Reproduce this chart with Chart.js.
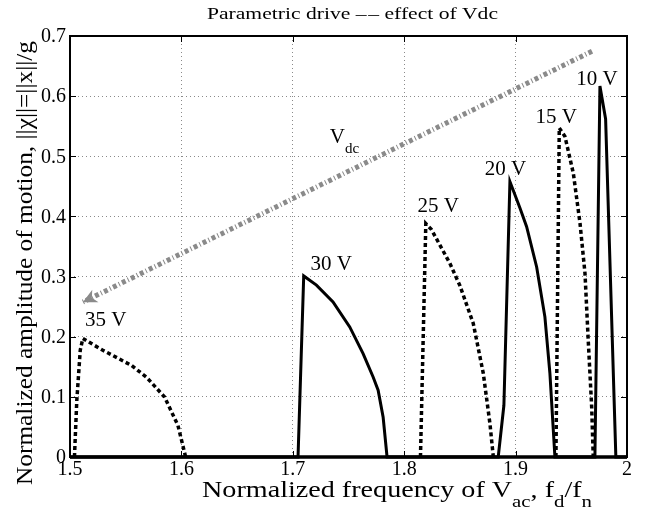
<!DOCTYPE html>
<html lang="en">
<head>
    <meta charset="UTF-8">
    <title>Parametric drive - effect of Vdc</title>
    <script src="https://cdn.jsdelivr.net/npm/chart.js"></script>
    <style>
        body { margin: 0; background: #fff; }
        #wrap { width: 654px; height: 510px; position: relative; }
    </style>
</head>
<body>
<div id="wrap"><canvas id="chart"></canvas></div>
<script>
    // axis ticks
    const xTicks = [1.5, 1.6, 1.7, 1.8, 1.9, 2];
    const xTickLabels = ['1.5', '1.6', '1.7', '1.8', '1.9', '2'];
    const yTicks = [0, 0.1, 0.2, 0.3, 0.4, 0.5, 0.6, 0.7];
    const yTickLabels = ['0', '0.1', '0.2', '0.3', '0.4', '0.5', '0.6', '0.7'];

    // curves: x = fd/fn, y = normalized amplitude
    const f10 = [1.5, 1.9712, 1.9757, 1.9808, 1.990, 2.0];
    const a10 = [0, 0, 0.617, 0.562, 0, 0];
    const f15 = [1.9362, 1.9392, 1.9443, 1.9518, 1.9578, 1.9623, 1.9652, 1.9683, 1.9697];
    const a15 = [0, 0.547, 0.533, 0.472, 0.389, 0.305, 0.194, 0.083, 0];
    const f20 = [1.5, 1.8844, 1.8895, 1.8949, 1.9039, 1.9099, 1.9189, 1.9263, 1.9308, 1.9353, 2.0];
    const a20 = [0, 0, 0.086, 0.458, 0.414, 0.383, 0.316, 0.233, 0.139, 0, 0];
    const f25 = [1.8146, 1.8194, 1.8245, 1.841, 1.85, 1.862, 1.871, 1.877, 1.880];
    const a25 = [0, 0.388, 0.378, 0.322, 0.285, 0.222, 0.139, 0.055, 0];
    const f30 = [1.5, 1.7047, 1.7098, 1.7212, 1.7361, 1.7511, 1.7631, 1.7721, 1.7766, 1.7811, 1.7846, 2.0];
    const a30 = [0, 0, 0.301, 0.2858, 0.258, 0.2163, 0.172, 0.133, 0.111, 0.066, 0, 0];
    const f35 = [1.504, 1.5061, 1.5092, 1.5115, 1.5295, 1.555, 1.5685, 1.5849, 1.5969, 1.6038];
    const a35 = [0, 0.094, 0.1775, 0.197, 0.1775, 0.1525, 0.133, 0.0997, 0.0525, 0];
    const curveLabels = ['10 V', '15 V', '20 V', '25 V', '30 V', '35 V'];

    // grey arrow (direction of increasing Vdc)
    const arrowX = [1.9686, 1.5115];
    const arrowY = [0.6747, 0.2575];

    const FONT = '"Liberation Serif", "Times New Roman", serif';
    const pts = (xs, ys) => xs.map((v, i) => ({ x: v, y: ys[i] }));

    const solid = (xs, ys) => ({
        data: pts(xs, ys), borderColor: '#000', borderWidth: 3, pointRadius: 0, clip: false
    });
    const dotted = (xs, ys) => ({
        data: pts(xs, ys), borderColor: '#000', borderWidth: 3.5, borderDash: [4, 3],
        borderCapStyle: 'butt', pointRadius: 0, clip: false
    });

    // text helpers: draw segments (with subscripts), stretched to fit a width
    function segWidth(ctx, segs, main, sub) {
        let w = 0;
        segs.forEach(s => {
            ctx.font = (s.sub ? sub : main) + 'px ' + FONT;
            w += ctx.measureText(s.t).width;
        });
        return w;
    }
    function drawSegs(ctx, segs, main, sub, drop, width) {
        const sx = width ? width / segWidth(ctx, segs, main, sub) : 1;
        ctx.scale(sx, 1);
        let x = 0;
        segs.forEach(s => {
            ctx.font = (s.sub ? sub : main) + 'px ' + FONT;
            ctx.fillText(s.t, x, s.sub ? drop : 0);
            x += ctx.measureText(s.t).width;
        });
    }

    const figPlugin = {
        id: 'figText',
        afterDraw(chart) {
            const { ctx, chartArea: a, scales: { x, y } } = chart;
            ctx.save();
            ctx.fillStyle = '#000';
            ctx.strokeStyle = '#000';

            // arrowhead
            const n = arrowX.length;
            const tx = x.getPixelForValue(arrowX[n - 1]), ty = y.getPixelForValue(arrowY[n - 1]);
            const px = x.getPixelForValue(arrowX[n - 2]), py = y.getPixelForValue(arrowY[n - 2]);
            const ang = Math.atan2(ty - py, tx - px);
            ctx.save();
            ctx.translate(tx, ty);
            ctx.rotate(ang);
            ctx.fillStyle = '#8a8a8a';
            ctx.beginPath();
            ctx.moveTo(0, 0);
            ctx.lineTo(-14, -7);
            ctx.lineTo(-10, 0);
            ctx.lineTo(-14, 7);
            ctx.closePath();
            ctx.fill();
            ctx.restore();

            // box and inward ticks
            ctx.lineWidth = 2;
            ctx.strokeRect(a.left, a.top, a.right - a.left, a.bottom - a.top);
            ctx.lineWidth = 1;
            ctx.beginPath();
            xTicks.forEach(v => {
                const p = Math.round(x.getPixelForValue(v)) + 0.5;
                ctx.moveTo(p, a.bottom); ctx.lineTo(p, a.bottom - 6);
                ctx.moveTo(p, a.top); ctx.lineTo(p, a.top + 6);
            });
            yTicks.forEach(v => {
                const p = Math.round(y.getPixelForValue(v)) + 0.5;
                ctx.moveTo(a.left, p); ctx.lineTo(a.left + 6, p);
                ctx.moveTo(a.right, p); ctx.lineTo(a.right - 6, p);
            });
            ctx.stroke();

            // tick labels
            ctx.font = '20px ' + FONT;
            ctx.textBaseline = 'middle';
            ctx.textAlign = 'right';
            yTicks.forEach((v, i) => ctx.fillText(yTickLabels[i], a.left - 4, y.getPixelForValue(v) + 1));
            ctx.textAlign = 'center';
            xTicks.forEach((v, i) => ctx.fillText(xTickLabels[i], x.getPixelForValue(v), a.bottom + 13));

            // curve labels, placed relative to each curve's peak
            const offs = [[-3, -6], [-3, -11], [-4.5, -12.5], [12.5, -17], [27.5, -11], [23, -18]];
            ctx.font = '21px ' + FONT;
            chart.data.datasets.slice(0, 6).forEach((ds, i) => {
                const pk = ds.data.reduce((m, p) => (p.y > m.y ? p : m));
                ctx.fillText(curveLabels[i], x.getPixelForValue(pk.x) + offs[i][0], y.getPixelForValue(pk.y) + offs[i][1]);
            });

            ctx.textAlign = 'left';
            ctx.textBaseline = 'alphabetic';

            // V_dc next to the arrow
            ctx.save();
            ctx.translate(x.getPixelForValue(1.7332), y.getPixelForValue(0.5225));
            drawSegs(ctx, [{ t: 'V' }, { t: 'dc', sub: true }], 21, 15, 10);
            ctx.restore();

            // title
            ctx.save();
            ctx.translate(207, 18.5);
            drawSegs(ctx, [{ t: 'Parametric drive \u2013\u200a\u2013 effect of Vdc' }], 17.6, 17.6, 0, 291);
            ctx.restore();

            // x axis title
            ctx.save();
            ctx.translate(202, 497);
            drawSegs(ctx, [
                { t: 'Normalized frequency of V' }, { t: 'ac', sub: true }, { t: ', f' },
                { t: 'd', sub: true }, { t: '/f' }, { t: 'n', sub: true }
            ], 23, 17, 10, 390);
            ctx.restore();

            // y axis title
            ctx.save();
            ctx.translate(31.5, 485);
            ctx.rotate(-Math.PI / 2);
            drawSegs(ctx, [{ t: 'Normalized amplitude of motion, ||\u03c7||=||x||/g' }], 23, 23, 0, 444);
            ctx.restore();

            ctx.restore();
        }
    };

    new Chart(document.getElementById('chart'), {
        type: 'line',
        data: {
            datasets: [
                solid(f10, a10),
                dotted(f15, a15),
                solid(f20, a20),
                dotted(f25, a25),
                solid(f30, a30),
                dotted(f35, a35),
                {
                    data: pts(arrowX, arrowY), borderColor: '#8a8a8a', borderWidth: 5,
                    borderDash: [4, 2.5, 1, 2.5], borderCapStyle: 'butt', pointRadius: 0
                }
            ]
        },
        options: {
            responsive: true,
            maintainAspectRatio: false,
            animation: false,
            layout: { padding: { left: 70, top: 36, right: 27, bottom: 53 } },
            plugins: { legend: { display: false }, tooltip: { enabled: false }, title: { display: false } },
            elements: { line: { tension: 0, fill: false } },
            scales: {
                x: {
                    type: 'linear', min: 1.5, max: 2,
                    afterBuildTicks: s => { s.ticks = xTicks.map(v => ({ value: v })); },
                    ticks: { display: false },
                    grid: { color: '#8a8a8a', lineWidth: 1, drawTicks: false },
                    border: { display: false, dash: [1, 3] }
                },
                y: {
                    min: 0, max: 0.7,
                    afterBuildTicks: s => { s.ticks = yTicks.map(v => ({ value: v })); },
                    ticks: { display: false },
                    grid: { color: '#8a8a8a', lineWidth: 1, drawTicks: false },
                    border: { display: false, dash: [1, 3] }
                }
            }
        },
        plugins: [figPlugin]
    });
</script>
</body>
</html>
